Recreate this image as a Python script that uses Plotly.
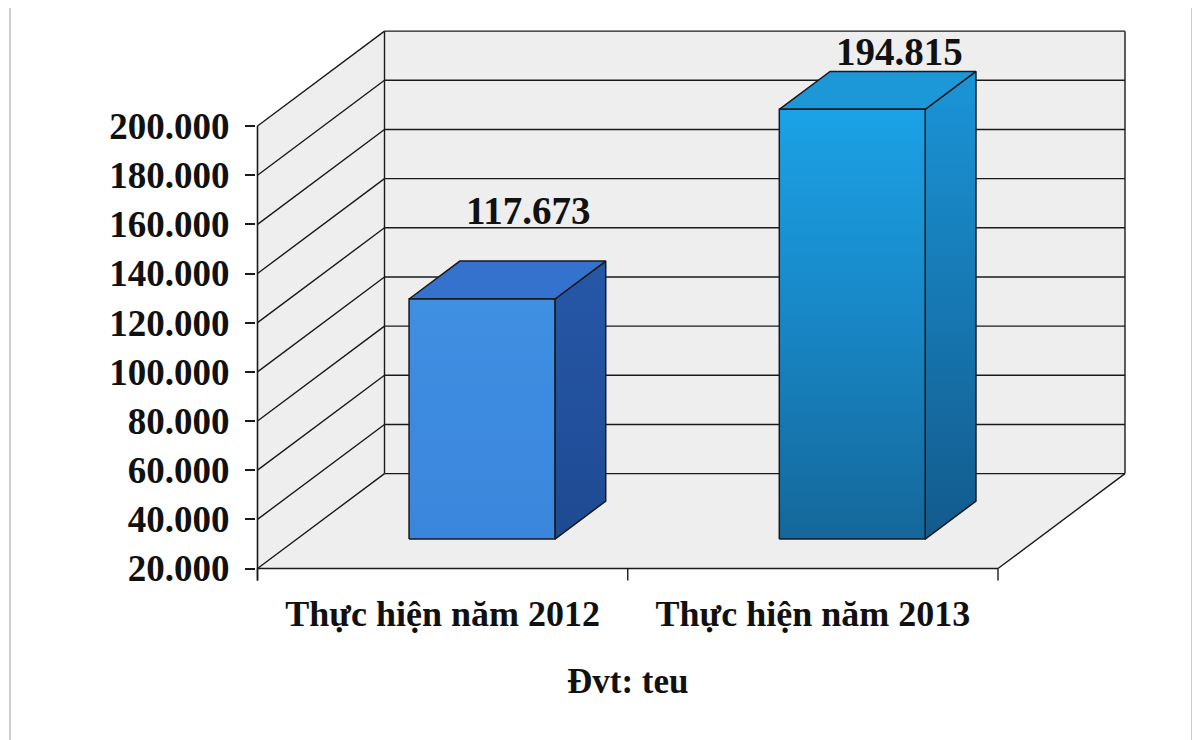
import plotly.graph_objects as go

# ---- data ----
categories = ["Thực hiện năm 2012", "Thực hiện năm 2013"]
values = [117673, 194815]
value_labels = ["117.673", "194.815"]
tick_values = [20000, 40000, 60000, 80000, 100000, 120000, 140000, 160000, 180000, 200000]
tick_labels = ["20.000", "40.000", "60.000", "80.000", "100.000", "120.000",
               "140.000", "160.000", "180.000", "200.000"]
unit_text = "Đvt: teu"

# ---- 3D projection parameters (styling) ----
YMIN, YMAX = 20000, 200000
DX, DY = 0.343, 38600          # depth vector in data units
F0, F1 = 0.31, 0.71            # bar depth range (fraction of depth)
HW = 0.197                     # bar half width
FONT = "Liberation Serif, Times New Roman, serif"
LINE = "#1a1a1a"
WALL = "#eeeeee"

front_colors = [
    [[0, "#3a86dc"], [1, "#3f8fe3"]],
    [[0, "#14679a"], [0.5, "#1886c4"], [1, "#1ba2e6"]],
]
top_colors = ["#3472cd", "#1c98d8"]
side_colors = [
    [[0, "#1f4a92"], [1, "#2657a8"]],
    [[0, "#135a8c"], [1, "#1a95d8"]],
]
label_shift = [51, 20]

fig = go.Figure()
shapes = []

def poly(pts, fill):
    path = "M " + " L ".join(f"{x},{y}" for x, y in pts) + " Z"
    return dict(type="path", path=path, xref="x", yref="y", layer="below",
                fillcolor=fill, line=dict(width=0))

def seg(x0, y0, x1, y1, w=1.4, color=LINE):
    return dict(type="line", x0=x0, y0=y0, x1=x1, y1=y1, xref="x", yref="y",
                layer="below", line=dict(color=color, width=w))

xl, xr = -0.5, len(categories) - 0.5
# walls and floor
shapes.append(poly([(xl, YMIN), (xl, YMAX), (xl + DX, YMAX + DY), (xl + DX, YMIN + DY)], WALL))
shapes.append(poly([(xl + DX, YMIN + DY), (xl + DX, YMAX + DY), (xr + DX, YMAX + DY), (xr + DX, YMIN + DY)], WALL))
shapes.append(poly([(xl, YMIN), (xr, YMIN), (xr + DX, YMIN + DY), (xl + DX, YMIN + DY)], WALL))
# gridlines on side and back walls
for v in tick_values:
    shapes.append(seg(xl, v, xl + DX, v + DY))
    shapes.append(seg(xl + DX, v + DY, xr + DX, v + DY))
shapes.append(seg(xl + DX, YMIN + DY, xl + DX, YMAX + DY))
shapes.append(seg(xr + DX, YMIN + DY, xr + DX, YMAX + DY))
shapes.append(seg(xr, YMIN, xr + DX, YMIN + DY))
# front axes
tick_down = 4900
shapes.append(seg(xl, YMIN - tick_down, xl, YMAX, w=1.6))
shapes.append(seg(xl, YMIN, xr, YMIN, w=1.6))
for k in range(len(categories) + 1):
    shapes.append(seg(xl + k, YMIN, xl + k, YMIN - tick_down, w=1.4))

# bars
bdx, bdy = (F1 - F0) * DX, (F1 - F0) * DY
for i, v in enumerate(values):
    cx = i + F0 * DX
    fx0, fx1 = cx - HW, cx + HW
    fyb, fyt = YMIN + F0 * DY, v + F0 * DY
    side = [(fx1, fyb), (fx1 + bdx, fyb + bdy), (fx1 + bdx, fyt + bdy), (fx1, fyt), (fx1, fyb)]
    top = [(fx0, fyt), (fx1, fyt), (fx1 + bdx, fyt + bdy), (fx0 + bdx, fyt + bdy), (fx0, fyt)]
    front = [(fx0, fyb), (fx1, fyb), (fx1, fyt), (fx0, fyt), (fx0, fyb)]
    fig.add_trace(go.Scatter(x=[p[0] for p in side], y=[p[1] for p in side], mode="lines",
                             fill="toself", fillgradient=dict(type="vertical", colorscale=side_colors[i]),
                             line=dict(color=LINE, width=1.5), hoverinfo="skip", showlegend=False))
    fig.add_trace(go.Scatter(x=[p[0] for p in top], y=[p[1] for p in top], mode="lines",
                             fill="toself", fillcolor=top_colors[i],
                             line=dict(color=LINE, width=1.5), hoverinfo="skip", showlegend=False))
    fig.add_trace(go.Scatter(x=[p[0] for p in front], y=[p[1] for p in front], mode="lines",
                             fill="toself", fillgradient=dict(type="vertical", colorscale=front_colors[i]),
                             line=dict(color=LINE, width=1.5), hoverinfo="skip", showlegend=False))
    fig.add_annotation(x=i + 0.68 * DX, y=v + F1 * DY, xref="x", yref="y", text=value_labels[i],
                       showarrow=False, yanchor="middle", yshift=label_shift[i],
                       font=dict(family=FONT, size=39, color="#111111", weight="bold"))

# Page pixel targets (the page body adds an 8px offset to the figure div)
OFF = 8
W, H = 1200, 740
L, R, T, B = 256 - OFF, 1140 - OFF, 25 - OFF, 585 - OFF
AX_LEFT, AX_BOTTOM = 257.5 - OFF, 568.5 - OFF
xpx = 370.25
ypx = 406.8
x0r = -0.5 - (AX_LEFT - L) / xpx
x1r = x0r + (R - L) / xpx
y0r = YMIN - (B - AX_BOTTOM) * ypx
y1r = YMIN + (AX_BOTTOM - T) * ypx

fig.add_annotation(x=0.5, y=(B - (681 - OFF)) / (B - T), xref="x", yref="paper", text=unit_text,
                   showarrow=False, yanchor="middle",
                   font=dict(family=FONT, size=35, color="#111111", weight="bold"))

# frame lines of the scanned page
for px in [10, 1192]:
    xp = (px - OFF - L) / (R - L)
    shapes.append(dict(type="line", xref="paper", yref="paper", x0=xp, x1=xp,
                       y0=(B - H + OFF) / (B - T), y1=(B + OFF) / (B - T),
                       line=dict(color="#cccccc", width=2)))

fig.update_layout(
    width=W, height=H,
    margin=dict(l=L, r=W - R, t=T, b=H - B, pad=0, autoexpand=False),
    paper_bgcolor="white", plot_bgcolor="white",
    shapes=shapes,
    xaxis=dict(range=[x0r, x1r], showgrid=False, zeroline=False, showline=False, automargin=False,
               tickvals=list(range(len(categories))), ticktext=categories, ticks="",
               ticklabelstandoff=4,
               tickfont=dict(family=FONT, size=36, color="#111111", weight="bold")),
    yaxis=dict(range=[y0r, y1r], showgrid=False, zeroline=False, showline=False, automargin=False,
               tickvals=tick_values, ticktext=tick_labels, ticks="outside", ticklen=10,
               tickwidth=1.5, tickcolor=LINE, ticklabelstandoff=8,
               tickfont=dict(family=FONT, size=37, color="#111111", weight="bold")),
)

fig.write_html("out.html")
